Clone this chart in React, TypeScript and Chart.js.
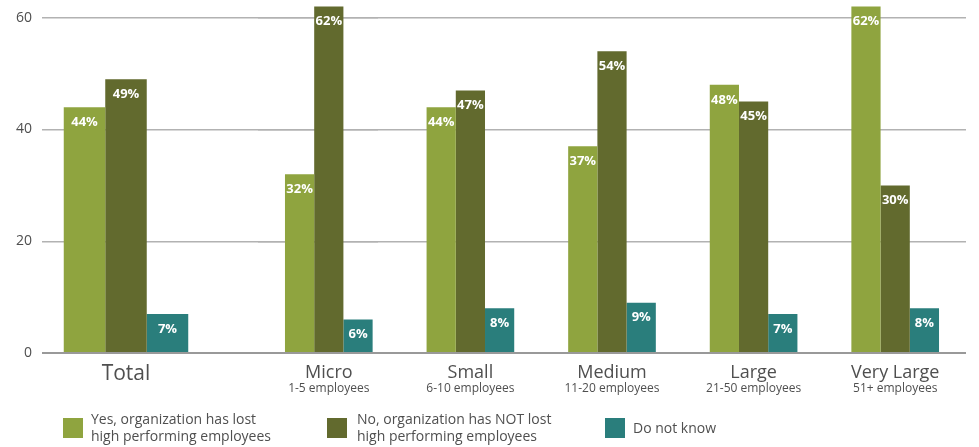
import React, { useEffect, useRef } from 'react';
import { Chart, registerables } from 'chart.js';

Chart.register(...registerables);

// ---- data ----
const totalCategories = ['Total', ''];
const sizeLabels = ['Micro', 'Small', 'Medium', 'Large', 'Very Large'];
const sizeSubLabels = ['1-5 employees', '6-10 employees', '11-20 employees', '21-50 employees', '51+ employees'];
const seriesNames = [
  'Yes, organization has lost high performing employees',
  'No, organization has NOT lost high performing employees',
  'Do not know',
];
const legendLines = [
  ['Yes, organization has lost', 'high performing employees'],
  ['No, organization has NOT lost', 'high performing employees'],
  ['Do not know'],
];
const totalYes = [44];
const totalNo = [49];
const totalDontKnow = [7];
const yesValues = [32, 44, 37, 48, 62];
const noValues = [62, 47, 54, 45, 30];
const dontKnowValues = [6, 8, 9, 7, 8];
const yTickStep = 20;
const yMax = 63;

// ---- styles ----
const colors = ['#8fa43f', '#626a2e', '#2a7e7c'];
const FONT = '"Open Sans", "DejaVu Sans", sans-serif';
const TEXT = '#4f4f4f';

const valueLabelPlugin = {
  id: 'valueLabels',
  afterDatasetsDraw(chart: any) {
    const ctx = chart.ctx;
    ctx.save();
    ctx.fillStyle = '#ffffff';
    ctx.font = `bold 13px ${FONT}`;
    ctx.textAlign = 'center';
    ctx.textBaseline = 'middle';
    chart.data.datasets.forEach((ds: any, di: number) => {
      const meta = chart.getDatasetMeta(di);
      meta.data.forEach((el: any, i: number) => {
        if (ds.data[i] == null) return;
        ctx.fillText(`${ds.data[i]}%`, el.x, el.y + 15);
      });
    });
    ctx.restore();
  },
};

const xLabelPlugin = {
  id: 'xLabels',
  afterDraw(chart: any, _args: any, opts: any) {
    const ctx = chart.ctx;
    const xs = chart.scales.x;
    const base = chart.chartArea.bottom;
    const main: string[] = opts.main || [];
    const sub: string[] = opts.sub || [];
    ctx.save();
    ctx.fillStyle = TEXT;
    ctx.textAlign = 'center';
    ctx.textBaseline = 'alphabetic';
    main.forEach((label, i) => {
      if (!label) return;
      const x = xs.getPixelForValue(i);
      ctx.font = `${opts.mainSize}px ${FONT}`;
      ctx.fillText(label, x, base + opts.mainOffset);
      if (sub[i]) {
        ctx.font = `12px ${FONT}`;
        ctx.fillText(sub[i], x, base + 38.5);
      }
    });
    ctx.restore();
  },
};

function makeChart(
  canvas: HTMLCanvasElement,
  labels: string[],
  series: number[][],
  catPct: number,
  showYTicks: boolean,
  padRight: number,
  labelOpts: any,
) {
  return new Chart(canvas, {
    type: 'bar',
    data: {
      labels,
      datasets: series.map((d, i) => ({
        label: seriesNames[i],
        data: d,
        backgroundColor: colors[i],
        borderWidth: 0,
        categoryPercentage: catPct,
        barPercentage: 1,
      })),
    },
    options: {
      animation: false,
      responsive: false,
      events: [],
      layout: { padding: { left: 0, right: padRight, top: 1, bottom: 94 } },
      plugins: { legend: { display: false }, tooltip: { enabled: false }, xLabels: labelOpts } as any,
      scales: {
        x: { type: 'category', offset: true, display: false },
        y: {
          type: 'linear', position: 'left', min: 0, max: yMax,
          border: { display: false },
          grid: {
            drawTicks: false,
            color: (c: any) => (c.tick && c.tick.value === 0 ? '#999999' : '#b2b2b2'),
            lineWidth: (c: any) => (c.tick && c.tick.value === 0 ? 2 : 1.5),
          },
          ticks: {
            display: showYTicks,
            stepSize: yTickStep, includeBounds: false, padding: 10,
            color: TEXT, font: { family: FONT, size: 14 },
          },
          afterFit: (s: any) => { s.width = showYTicks ? 42 : 0; s.paddingTop = 0; s.paddingBottom = 0; },
        },
      } as any,
    },
    plugins: [valueLabelPlugin, xLabelPlugin],
  });
}

export default function App() {
  const leftRef = useRef<HTMLCanvasElement | null>(null);
  const rightRef = useRef<HTMLCanvasElement | null>(null);

  useEffect(() => {
    if (!leftRef.current || !rightRef.current) return;
    const left = makeChart(
      leftRef.current, totalCategories, [totalYes, totalNo, totalDontKnow], 0.741, true, 0,
      { main: totalCategories, sub: [], mainSize: 21, mainOffset: 27 },
    );
    const right = makeChart(
      rightRef.current, sizeLabels, [yesValues, noValues, dontKnowValues], 0.619, false, 13,
      { main: sizeLabels, sub: sizeSubLabels, mainSize: 18, mainOffset: 24.5 },
    );
    return () => { left.destroy(); right.destroy(); };
  }, []);

  const legendLefts = [63, 327, 605];

  return (
    <div style={{ position: 'fixed', left: 0, top: 0, width: 979, height: 447, background: '#fff', overflow: 'hidden' }}>
      <canvas ref={leftRef} width={378} height={447}
        style={{ position: 'absolute', left: 0, top: 0, width: 378, height: 447 }} />
      <canvas ref={rightRef} width={721} height={447}
        style={{ position: 'absolute', left: 258, top: 0, width: 721, height: 447 }} />
      {legendLines.map((lines, i) => (
        <div
          key={i}
          style={{
            position: 'absolute', left: legendLefts[i], top: 408, height: 40,
            display: 'flex', alignItems: 'center',
            fontFamily: FONT, fontSize: 14, lineHeight: '16.7px', color: TEXT, whiteSpace: 'nowrap',
          }}
        >
          <div style={{ width: 20, height: 20, background: colors[i], marginRight: i === 1 ? 10 : 8 }} />
          <div>
            {lines.map((t, j) => (
              <div key={j}>{t}</div>
            ))}
          </div>
        </div>
      ))}
    </div>
  );
}
